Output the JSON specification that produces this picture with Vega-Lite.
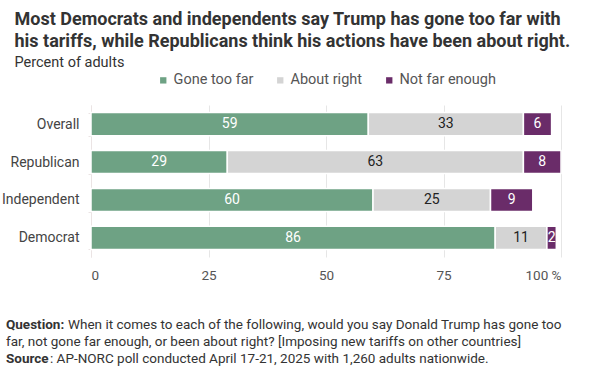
{
  "$schema": "https://vega.github.io/schema/vega-lite/v6.json",
  "padding": {"left": 1, "top": 10, "right": 5, "bottom": 3},
  "background": "white",
  "title": {
    "text": ["Most Democrats and independents say Trump has gone too far with", "his tariffs, while Republicans think his actions have been about right."],
    "subtitle": "Percent of adults",
    "anchor": "start",
    "dx": 13,
    "font": "Roboto",
    "fontSize": 18,
    "fontWeight": "bold",
    "color": "#333333",
    "lineHeight": 22,
    "subtitleFont": "Roboto",
    "subtitleFontSize": 14.5,
    "subtitleColor": "#333333",
    "subtitlePadding": 5,
    "offset": 4
  },
  "spacing": 35,
  "vconcat": [
    {
      "width": 470,
      "height": 152,
      "data": {
        "values": [
          {"group": "Overall", "response": "Gone too far", "order": 1, "value": 59},
          {"group": "Overall", "response": "About right", "order": 2, "value": 33},
          {"group": "Overall", "response": "Not far enough", "order": 3, "value": 6},
          {"group": "Republican", "response": "Gone too far", "order": 1, "value": 29},
          {"group": "Republican", "response": "About right", "order": 2, "value": 63},
          {"group": "Republican", "response": "Not far enough", "order": 3, "value": 8},
          {"group": "Independent", "response": "Gone too far", "order": 1, "value": 60},
          {"group": "Independent", "response": "About right", "order": 2, "value": 25},
          {"group": "Independent", "response": "Not far enough", "order": 3, "value": 9},
          {"group": "Democrat", "response": "Gone too far", "order": 1, "value": 86},
          {"group": "Democrat", "response": "About right", "order": 2, "value": 11},
          {"group": "Democrat", "response": "Not far enough", "order": 3, "value": 2}
        ]
      },
      "transform": [
        {"stack": "value", "groupby": ["group"], "sort": [{"field": "order", "order": "ascending"}], "as": ["x0", "x1"]},
        {"calculate": "(datum.x0 + datum.x1) / 2", "as": "mid"}
      ],
      "encoding": {
        "y": {
          "field": "group",
          "type": "nominal",
          "sort": ["Overall", "Republican", "Independent", "Democrat"],
          "scale": {"paddingInner": 0.39, "paddingOuter": 0.2},
          "axis": {
            "title": null,
            "labelFont": "Roboto",
            "labelFontSize": 14,
            "labelColor": "#444444",
            "labelPadding": 9,
            "domain": true,
            "domainColor": "#ebe4e4",
            "ticks": true,
            "tickColor": "#ebe4e4",
            "tickSize": 3,
            "tickBand": "extent",
            "grid": false
          }
        }
      },
      "layer": [
        {
          "mark": {"type": "bar", "stroke": "white", "strokeWidth": 1.5},
          "encoding": {
            "x": {
              "field": "x0",
              "type": "quantitative",
              "scale": {"domain": [0, 100], "nice": false},
              "axis": {
                "title": null,
                "values": [0, 25, 50, 75, 100],
                "labelExpr": "datum.value == 100 ? '\u2007\u2007100 %' : datum.label",
                "labelFont": "Roboto",
                "labelFontSize": 13.5,
                "labelColor": "#555555",
                "labelPadding": 11,
                "domain": false,
                "ticks": false,
                "grid": true,
                "gridColor": "#e6e6e6",
                "gridWidth": 1
              }
            },
            "x2": {"field": "x1"},
            "color": {
              "field": "response",
              "type": "nominal",
              "scale": {"domain": ["Gone too far", "About right", "Not far enough"], "range": ["#6ea284", "#d4d4d4", "#6a2c69"]},
              "legend": {
                "title": null,
                "orient": "top",
                "direction": "horizontal",
                "symbolType": "square",
                "symbolSize": 40,
                "symbolStrokeWidth": 0,
                "labelFont": "Roboto",
                "labelFontSize": 14.5,
                "labelColor": "#555555",
                "labelOffset": 3,
                "columnPadding": 19,
                "offset": 11
              }
            }
          }
        },
        {
          "mark": {"type": "text", "font": "Roboto", "fontSize": 14, "baseline": "middle", "align": "center"},
          "encoding": {
            "x": {"field": "mid", "type": "quantitative"},
            "text": {"field": "value", "type": "quantitative"},
            "color": {
              "condition": {"test": "datum.response == 'About right'", "value": "#222222"},
              "value": "#ffffff"
            }
          }
        }
      ]
    },
    {
      "width": 470,
      "height": 50,
      "data": {
        "values": [
          {"line": 1, "part": "bold", "text": "Question:"},
          {"line": 1, "part": "rest", "text": "When it comes to each of the following, would you say Donald Trump has gone too"},
          {"line": 2, "part": "plain", "text": "far, not gone far enough, or been about right? [Imposing new tariffs on other countries]"},
          {"line": 3, "part": "bold", "text": "Source"},
          {"line": 3, "part": "rest3", "text": ": AP-NORC poll conducted April 17-21, 2025 with 1,260 adults nationwide."}
        ]
      },
      "encoding": {
        "y": {"field": "line", "type": "ordinal", "axis": null, "scale": {"paddingOuter": 0, "paddingInner": 0}},
        "text": {"field": "text"},
        "x": {"value": 0}
      },
      "layer": [
        {
          "transform": [{"filter": "datum.part == 'bold'"}],
          "mark": {"type": "text", "font": "Roboto", "fontSize": 13.5, "fontWeight": "bold", "color": "#333333", "align": "left", "baseline": "middle", "dx": -85}
        },
        {
          "transform": [{"filter": "datum.part == 'plain'"}],
          "mark": {"type": "text", "font": "Roboto", "fontSize": 13.5, "color": "#333333", "align": "left", "baseline": "middle", "dx": -85}
        },
        {
          "transform": [{"filter": "datum.part == 'rest'"}],
          "mark": {"type": "text", "font": "Roboto", "fontSize": 13.5, "color": "#333333", "align": "left", "baseline": "middle", "dx": -23}
        },
        {
          "transform": [{"filter": "datum.part == 'rest3'"}],
          "mark": {"type": "text", "font": "Roboto", "fontSize": 13.5, "color": "#333333", "align": "left", "baseline": "middle", "dx": -41}
        }
      ]
    }
  ],
  "config": {
    "view": {"stroke": null},
    "legend": {"layout": {"top": {"anchor": "middle"}}}
  }
}
